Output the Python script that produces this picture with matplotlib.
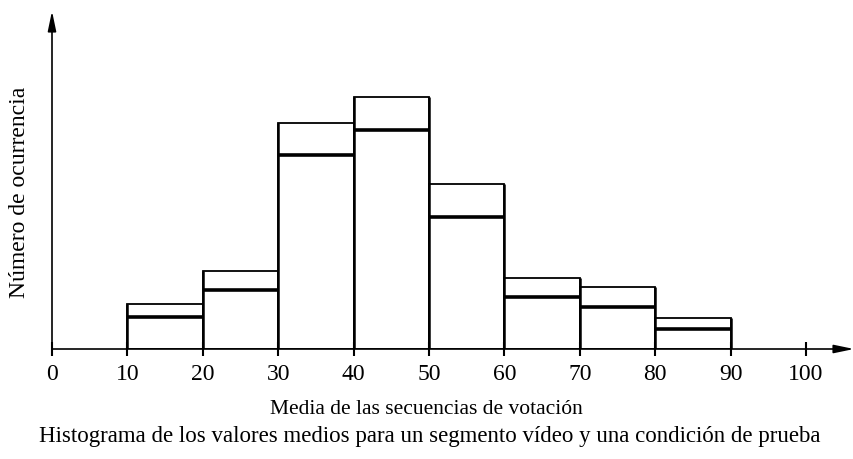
import matplotlib.pyplot as plt

# Datos (alturas en unidades arbitrarias)
bordes = [10, 20, 30, 40, 50, 60, 70, 80]
ancho = 10
total = [45, 78, 226, 252, 165, 71, 62, 31]       # caja exterior
interior = [32, 59, 194, 219, 132, 52, 42, 20]    # linea interior gruesa
ticks = [0, 10, 20, 30, 40, 50, 60, 70, 80, 90, 100]

plt.rcParams['font.family'] = ['Liberation Serif', 'DejaVu Serif']

fig = plt.figure(figsize=(8.54, 4.6), dpi=100)
ax = fig.add_axes([52 / 854, 110 / 460, 802 / 854, 338 / 460])

ax.bar(bordes, total, width=ancho, align='edge', fill=False,
       edgecolor='black', linewidth=1.3)
ax.hlines(interior, bordes, [b + ancho for b in bordes], colors='black', linewidth=2.6)
ax.vlines(bordes + [90], 0, [total[0]] + [max(total[i - 1], total[i]) for i in range(1, 8)] + [total[7]],
          colors='black', linewidth=1.8)

xmax = 802 / 7.54
ax.set_xlim(0, xmax)
ax.set_ylim(0, 338)

for s in ['top', 'right', 'left', 'bottom']:
    ax.spines[s].set_visible(False)

ax.annotate('', xy=(xmax, 0), xytext=(0, 0),
            arrowprops=dict(arrowstyle='-|>,head_length=1.2,head_width=0.25',
                            color='black', lw=1.2, shrinkA=0, shrinkB=0),
            annotation_clip=False)
ax.annotate('', xy=(0, 338), xytext=(0, 0),
            arrowprops=dict(arrowstyle='-|>,head_length=1.2,head_width=0.25',
                            color='black', lw=1.2, shrinkA=0, shrinkB=0),
            annotation_clip=False)

ax.set_xticks(ticks)
ax.set_xticklabels([str(t) for t in ticks], fontsize=17)
ax.tick_params(axis='x', direction='inout', length=10, width=1.5, pad=5)
ax.set_yticks([])

ax.set_ylabel('Número de ocurrencia', fontsize=17)
ax.yaxis.set_label_coords(-22 / 802, 0.467)
fig.text(426 / 854, 1 - 410 / 460, 'Media de las secuencias de votación', fontsize=15.5,
         ha='center', va='center')
fig.text(430 / 854, 1 - 437 / 460,
         'Histograma de los valores medios para un segmento vídeo y una condición de prueba',
         fontsize=16.5, ha='center', va='center')

fig.savefig('out.png', dpi=100)
